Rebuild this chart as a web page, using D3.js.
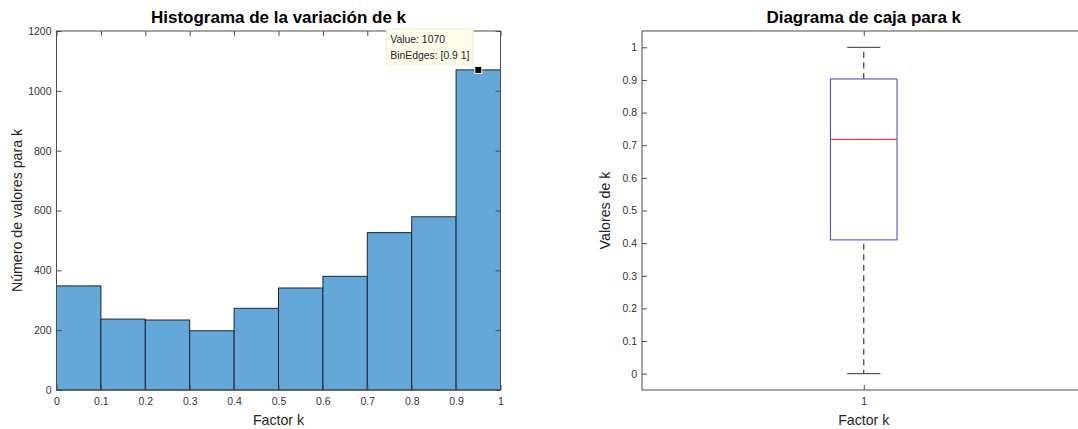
<!DOCTYPE html>
<html>
<head>
<meta charset="utf-8">
<script src="https://cdn.jsdelivr.net/npm/d3@7"></script>
<style>
  html, body { margin: 0; padding: 0; background: #fff; overflow: hidden; }
  svg { display: block; font-family: "Liberation Sans", Arial, Helvetica, sans-serif; }
  .tick text { fill: #333; font-size: 10.5px; }
  .tick line { stroke: #4d4d4d; }
</style>
</head>
<body>
<svg id="chart" width="1078" height="429"></svg>
<script>
// Histogram of k: bin edges and counts per bin
const binEdges = [0, 0.1, 0.2, 0.3, 0.4, 0.5, 0.6, 0.7, 0.8, 0.9, 1];
const binCounts = [348, 237, 234, 198, 273, 341, 380, 526, 579, 1070];
const histYTicks = [0, 200, 400, 600, 800, 1000, 1200];
const histXTicks = [0, 0.1, 0.2, 0.3, 0.4, 0.5, 0.6, 0.7, 0.8, 0.9, 1];

// Box plot of k: five-number summary
const boxGroups = [1];
const boxMin = [0];
const boxQ1 = [0.41];
const boxMedian = [0.718];
const boxQ3 = [0.903];
const boxMax = [1];
const boxYTicks = [0, 0.1, 0.2, 0.3, 0.4, 0.5, 0.6, 0.7, 0.8, 0.9, 1];

// Highlighted bin for the data tip
const tipBin = 9;

const svg = d3.select("#chart");
const axisColor = "#4d4d4d";
const textColor = "#262626";
const fmt = d => String(d);

// ---------- Left panel: histogram ----------
const L = { left: 56.5, right: 500.5, top: 31, bottom: 390 };
const hx = d3.scaleLinear().domain([0, 1]).range([L.left, L.right]);
const hy = d3.scaleLinear().domain([0, 1200]).range([L.bottom, L.top]);

const hist = svg.append("g");

hist.append("g")
  .selectAll("rect")
  .data(binCounts)
  .join("rect")
  .attr("x", (d, i) => hx(binEdges[i]))
  .attr("y", d => hy(d))
  .attr("width", (d, i) => hx(binEdges[i + 1]) - hx(binEdges[i]))
  .attr("height", d => hy(0) - hy(d))
  .attr("fill", "#63a8d8")
  .attr("stroke", "#1c2633")
  .attr("stroke-width", 1);

// axes box
hist.append("rect")
  .attr("x", L.left).attr("y", L.top)
  .attr("width", L.right - L.left).attr("height", L.bottom - L.top)
  .attr("fill", "none").attr("stroke", axisColor).attr("stroke-width", 1);

function styleAxis(g) {
  g.select(".domain").remove();
  g.selectAll(".tick line").attr("stroke", axisColor);
}

hist.append("g")
  .attr("transform", `translate(${L.left},0)`)
  .call(d3.axisLeft(hy).tickValues(histYTicks).tickFormat(fmt).tickSize(-5).tickPadding(5))
  .call(styleAxis);
hist.append("g")
  .attr("transform", `translate(${L.right},0)`)
  .call(d3.axisRight(hy).tickValues(histYTicks).tickFormat("").tickSize(-5))
  .call(styleAxis);
hist.append("g")
  .attr("transform", `translate(0,${L.bottom})`)
  .call(d3.axisBottom(hx).tickValues(histXTicks).tickFormat(fmt).tickSize(-5).tickPadding(8))
  .call(styleAxis);
hist.append("g")
  .attr("transform", `translate(0,${L.top})`)
  .call(d3.axisTop(hx).tickValues(histXTicks).tickFormat("").tickSize(-5))
  .call(styleAxis);

hist.append("text")
  .attr("x", (L.left + L.right) / 2).attr("y", 22.5)
  .attr("text-anchor", "middle")
  .attr("font-size", 17).attr("font-weight", "bold").attr("fill", "#000")
  .text("Histograma de la variación de k");
hist.append("text")
  .attr("x", (L.left + L.right) / 2).attr("y", 424.5)
  .attr("text-anchor", "middle")
  .attr("font-size", 14.2).attr("fill", textColor)
  .text("Factor k");
hist.append("text")
  .attr("transform", `translate(22,${(L.top + L.bottom) / 2}) rotate(-90)`)
  .attr("text-anchor", "middle")
  .attr("font-size", 14.2).attr("fill", textColor)
  .text("Número de valores para k");

// data tip on the highlighted bin
const tipX = hx((binEdges[tipBin] + binEdges[tipBin + 1]) / 2);
const tipY = hy(binCounts[tipBin]);
const tip = hist.append("g");
tip.append("rect")
  .attr("x", tipX - 92).attr("y", tipY - 41)
  .attr("width", 87).attr("height", 36)
  .attr("fill", "#fcfce9").attr("stroke", "#ecebd8").attr("stroke-width", 0.8);
tip.append("text")
  .attr("x", tipX - 88).attr("y", tipY - 26.5)
  .attr("font-size", 10.4).attr("fill", textColor)
  .text(`Value: ${binCounts[tipBin]}`);
tip.append("text")
  .attr("x", tipX - 88).attr("y", tipY - 10.5)
  .attr("font-size", 10.4).attr("fill", textColor)
  .text(`BinEdges: [${binEdges[tipBin]} ${binEdges[tipBin + 1]}]`);
tip.append("rect")
  .attr("x", tipX - 3.5).attr("y", tipY - 3.5)
  .attr("width", 7).attr("height", 7)
  .attr("fill", "#000").attr("stroke", "#fff").attr("stroke-width", 1);

// ---------- Right panel: box plot ----------
const R = { left: 642, right: 1085.5, top: 31, bottom: 390 };
const bx = d3.scaleLinear().domain([0.5, 1.5]).range([R.left, R.right]);
const by = d3.scaleLinear().domain([-0.05, 1.05]).range([R.bottom, R.top]);
const boxHalf = 0.075;
const capHalf = 0.0375;

const box = svg.append("g");

box.append("rect")
  .attr("x", R.left).attr("y", R.top)
  .attr("width", R.right - R.left).attr("height", R.bottom - R.top)
  .attr("fill", "none").attr("stroke", axisColor).attr("stroke-width", 1);

box.append("g")
  .attr("transform", `translate(${R.left},0)`)
  .call(d3.axisLeft(by).tickValues(boxYTicks).tickFormat(fmt).tickSize(-5).tickPadding(5))
  .call(styleAxis);
box.append("g")
  .attr("transform", `translate(0,${R.bottom})`)
  .call(d3.axisBottom(bx).tickValues(boxGroups).tickFormat(fmt).tickSize(-5).tickPadding(8))
  .call(styleAxis);
box.append("g")
  .attr("transform", `translate(0,${R.top})`)
  .call(d3.axisTop(bx).tickValues(boxGroups).tickFormat("").tickSize(-5))
  .call(styleAxis);

const groups = boxGroups.map((g, i) => ({
  g, min: boxMin[i], q1: boxQ1[i], med: boxMedian[i], q3: boxQ3[i], max: boxMax[i]
}));

const items = box.selectAll(".item").data(groups).join("g").attr("class", "item");

// dashed whiskers
items.append("line")
  .attr("x1", d => bx(d.g)).attr("x2", d => bx(d.g))
  .attr("y1", d => by(d.q3)).attr("y2", d => by(d.max))
  .attr("stroke", "#3a3a3a").attr("stroke-width", 1.2).attr("stroke-dasharray", "6,4.5");
items.append("line")
  .attr("x1", d => bx(d.g)).attr("x2", d => bx(d.g))
  .attr("y1", d => by(d.q1)).attr("y2", d => by(d.min))
  .attr("stroke", "#3a3a3a").attr("stroke-width", 1.2).attr("stroke-dasharray", "6,4.5")
  .attr("stroke-dashoffset", -4);
// whisker caps
items.append("line")
  .attr("x1", d => bx(d.g - capHalf)).attr("x2", d => bx(d.g + capHalf))
  .attr("y1", d => by(d.max)).attr("y2", d => by(d.max))
  .attr("stroke", "#333").attr("stroke-width", 1);
items.append("line")
  .attr("x1", d => bx(d.g - capHalf)).attr("x2", d => bx(d.g + capHalf))
  .attr("y1", d => by(d.min)).attr("y2", d => by(d.min))
  .attr("stroke", "#333").attr("stroke-width", 1);
// box
items.append("rect")
  .attr("x", d => bx(d.g - boxHalf)).attr("y", d => by(d.q3))
  .attr("width", d => bx(d.g + boxHalf) - bx(d.g - boxHalf))
  .attr("height", d => by(d.q1) - by(d.q3))
  .attr("fill", "none").attr("stroke", "#5050e8").attr("stroke-width", 1.1);
// median
items.append("line")
  .attr("x1", d => bx(d.g - boxHalf)).attr("x2", d => bx(d.g + boxHalf))
  .attr("y1", d => by(d.med)).attr("y2", d => by(d.med))
  .attr("stroke", "#f01c2c").attr("stroke-width", 1);

box.append("text")
  .attr("x", bx(1)).attr("y", 22.5)
  .attr("text-anchor", "middle")
  .attr("font-size", 17).attr("font-weight", "bold").attr("fill", "#000")
  .text("Diagrama de caja para k");
box.append("text")
  .attr("x", bx(1)).attr("y", 424.5)
  .attr("text-anchor", "middle")
  .attr("font-size", 14.2).attr("fill", textColor)
  .text("Factor k");
box.append("text")
  .attr("transform", `translate(610,${(R.top + R.bottom) / 2}) rotate(-90)`)
  .attr("text-anchor", "middle")
  .attr("font-size", 14.2).attr("fill", textColor)
  .text("Valores de k");
</script>
</body>
</html>
